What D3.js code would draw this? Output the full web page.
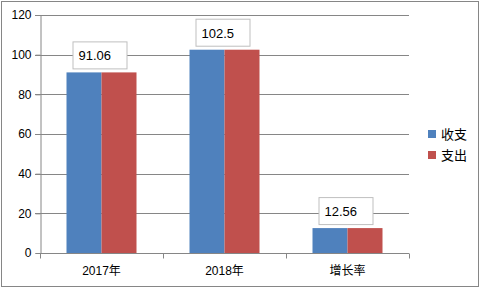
<!DOCTYPE html>
<html>
<head>
<meta charset="utf-8">
<script src="https://cdn.jsdelivr.net/npm/d3@7"></script>
<style>
  body { margin: 0; background: #fff; }
  svg text { font-family: "Liberation Sans", "Noto Sans CJK SC", sans-serif; }
</style>
</head>
<body>
<svg id="chart" width="481" height="289"></svg>
<script>
var categories = ["2017年", "2018年", "增长率"],
    seriesNames = ["收支", "支出"],
    shouzhi = [91.06, 102.5, 12.56],
    zhichu = [91.06, 102.5, 12.56],
    labels = ["91.06", "102.5", "12.56"],
    yTicks = [0, 20, 40, 60, 80, 100, 120],
    colors = ["#4F81BD", "#C0504D"];

var svg = d3.select("#chart"),
    margin = {top: 15, right: 72, bottom: 36, left: 40},
    width = 481 - margin.left - margin.right,
    height = 289 - margin.top - margin.bottom;

// outer frame
svg.append("rect")
    .attr("x", 1.5).attr("y", 1.5)
    .attr("width", 477).attr("height", 285)
    .attr("fill", "#fff")
    .attr("stroke", "#868686")
    .attr("stroke-width", 1);

var g = svg.append("g").attr("transform", "translate(" + margin.left + "," + margin.top + ")");

var x = d3.scaleBand().domain(categories).range([0, width]).paddingInner(0).paddingOuter(0),
    x1 = d3.scaleBand().domain(seriesNames).range([0, 70]),
    y = d3.scaleLinear().domain([0, 120]).range([height, 0]);

// grid lines
g.append("g").selectAll("line")
    .data(yTicks.slice(1))
    .join("line")
    .attr("x1", -5).attr("x2", width)
    .attr("y1", function(d) { return Math.round(y(d)) + 0.5; })
    .attr("y2", function(d) { return Math.round(y(d)) + 0.5; })
    .attr("stroke", "#868686");

// y axis
var yAxis = g.append("g")
    .attr("transform", "translate(0.5,0)")
    .call(d3.axisLeft(y).tickValues(yTicks).tickSize(5).tickPadding(4));
yAxis.selectAll("line, path").attr("stroke", "#868686");
yAxis.selectAll("text").attr("font-size", 12).attr("fill", "#000")
    .style("font-family", "'Liberation Sans', sans-serif");

// bars
var data = categories.map(function(c, i) {
    return {cat: c, vals: [shouzhi[i], zhichu[i]], label: labels[i]};
});

var groups = g.selectAll(".grp")
    .data(data)
    .join("g")
    .attr("class", "grp")
    .attr("transform", function(d) {
        return "translate(" + (x(d.cat) + (x.bandwidth() - 70) / 2) + ",0)";
    });

groups.selectAll("rect")
    .data(function(d) { return d.vals.map(function(v, j) { return {name: seriesNames[j], v: v, j: j}; }); })
    .join("rect")
    .attr("x", function(d) { return x1(d.name); })
    .attr("width", x1.bandwidth())
    .attr("y", function(d) { return y(d.v); })
    .attr("height", function(d) { return height - y(d.v); })
    .attr("fill", function(d) { return colors[d.j]; });

// x axis
var xAxis = g.append("g")
    .attr("transform", "translate(0," + (height + 0.5) + ")");
xAxis.append("line")
    .attr("x1", 0).attr("x2", width)
    .attr("stroke", "#868686");
xAxis.selectAll(".tk")
    .data(d3.range(categories.length + 1))
    .join("line")
    .attr("x1", function(i) { return Math.round(i * x.bandwidth()) + 0.5; })
    .attr("x2", function(i) { return Math.round(i * x.bandwidth()) + 0.5; })
    .attr("y1", 0).attr("y2", 5)
    .attr("stroke", "#868686");
xAxis.selectAll("text")
    .data(categories)
    .join("text")
    .attr("x", function(d) { return x(d) + x.bandwidth() / 2; })
    .attr("y", 21)
    .attr("text-anchor", "middle")
    .attr("font-size", 12)
    .text(function(d) { return d; });

// data labels
var lab = groups.append("g")
    .attr("transform", function(d) { return "translate(6," + (y(d.vals[0]) - 31) + ")"; });
lab.append("rect")
    .attr("x", 0.5).attr("y", 0.5)
    .attr("width", 54).attr("height", 27)
    .attr("fill", "#fff")
    .attr("stroke", "#BFBFBF");
lab.append("text")
    .attr("x", 6).attr("y", 19)
    .attr("font-size", 13)
    .text(function(d) { return d.label; });

// legend
var legend = svg.append("g").attr("transform", "translate(428,130)");
var items = legend.selectAll("g")
    .data(seriesNames)
    .join("g")
    .attr("transform", function(d, i) { return "translate(0," + (i * 21) + ")"; });
items.append("rect")
    .attr("width", 8).attr("height", 8)
    .attr("fill", function(d, i) { return colors[i]; });
items.append("text")
    .attr("x", 13).attr("y", 9)
    .attr("font-size", 13)
    .text(function(d) { return d; });
</script>
</body>
</html>
